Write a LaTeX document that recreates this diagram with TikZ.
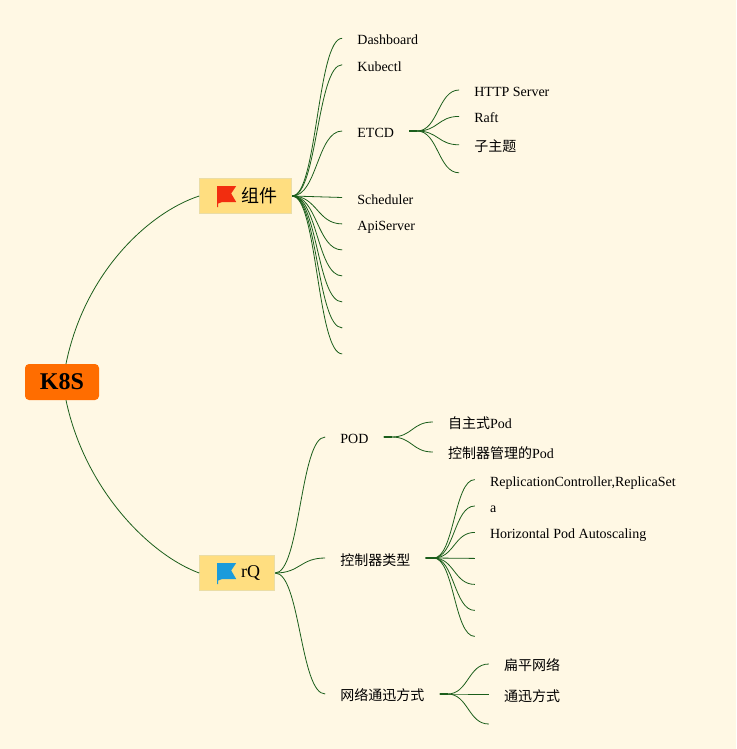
\documentclass[tikz,border=0pt]{standalone}
\usepackage{fontspec}
\setmainfont{Liberation Serif}
\newfontfamily\cjk{Noto Sans CJK SC}
\usepackage{xcolor}
\usepackage{tikz}
\usetikzlibrary{calc,positioning}

\definecolor{paper}{HTML}{FFF8E4}
\definecolor{topicfill}{HTML}{FFDE80}
\definecolor{topicline}{HTML}{EADDA6}
\definecolor{rootfill}{HTML}{FF6D00}
\definecolor{linkgreen}{HTML}{1B5E1B}
\definecolor{flagred}{HTML}{F22D0F}
\definecolor{flagblue}{HTML}{1A9BDC}

\begin{document}
\begin{tikzpicture}[
  x=1pt, y=-1pt,
  node distance=50pt,
  rootbox/.style={fill=rootfill, rounded corners=4pt, minimum width=74pt, minimum height=36pt, inner sep=0pt, font=\fontsize{24}{26}\selectfont\bfseries},
  topic/.style={draw=topicline, line width=0.8pt, fill=topicfill, minimum height=35pt, inner xsep=14.6pt, inner ysep=0pt, font=\fontsize{18}{20}\selectfont},
  leaf/.style={inner xsep=15pt, inner ysep=0pt, text height=13pt, text depth=0pt, font=\fontsize{14}{16}\selectfont},
  arc/.style={draw=linkgreen, line width=0.8pt},
  link/.style={arc, to path={let \p1=(\tikztostart), \p2=(\tikztotarget) in
    .. controls (\x1/2+\x2/2,\y1) and (\x1/2+\x2/2,\y2) .. (\p2)}},
  sublink/.style={arc, to path={let \p1=(\tikztostart), \p2=(\tikztotarget) in
    -- (\x1+8pt,\y1) .. controls (\x1/2+\x2/2+4pt,\y1) and (\x1/2+\x2/2+4pt,\y2) .. (\p2)}},
  stub/.style={draw=linkgreen, line width=1.5pt},
  flag/.pic={\fill[#1] (0,0) -- (19,0) -- (14,7.5) -- (19,16) -- (5,16) -- (1,17.5) -- (1,21) -- (0,21) -- cycle;}
]
\fill[paper] (0,0) rectangle (736,749);

\node[rootbox] (root) at (62,382) {\raisebox{-0.5pt}{K8S}};
\node[topic, right=100pt of root.east, yshift=186pt] (comp) {\hspace*{27pt}\raisebox{-1pt}{\cjk 组件}};
\node[topic, right=100pt of root.east, yshift=-191pt] (rq) {\hspace*{27pt}rQ};
\pic at ([shift={(18,-10)}]comp.west) {flag=flagred};
\pic at ([shift={(18,-10)}]rq.west) {flag=flagblue};

% first topic
\node[leaf, right=of comp.east, yshift=157.7pt] (dash) {Dashboard};
\node[leaf, below right=13pt and 0pt of dash.south west] (kube) {Kubectl};
\node[leaf, right=of comp.east, yshift=65pt] (etcd) {ETCD};
\node[leaf, right=of comp.east, yshift=-1.5pt] (sched) {Scheduler};
\node[leaf, below right=13pt and 0pt of sched.south west] (api) {ApiServer};
\coordinate[below=26pt of api.west] (blank1);
\coordinate[below=26pt of blank1] (blank2);
\coordinate[below=26pt of blank2] (blank3);
\coordinate[below=26pt of blank3] (blank4);
\coordinate[below=26pt of blank4] (blank5);

\node[leaf, right=of etcd.east, yshift=41pt] (http) {HTTP Server};
\node[leaf, below right=13pt and 0pt of http.south west] (raft) {Raft};
\node[leaf, below right=15pt and 0pt of raft.south west] (sub) {\cjk 子主题};
\coordinate[below=28pt of sub.west] (etcdend);

% second topic
\node[leaf, right=of rq.east, yshift=136pt] (pod) {POD};
\node[leaf, right=of rq.east, yshift=15pt] (ctrl) {\raisebox{-1pt}{\cjk 控制器类型}};
\node[leaf, right=of rq.east, yshift=-121pt] (net) {\cjk 网络通迅方式};

\node[leaf, right=49.2pt of pod.east, yshift=15pt] (self) {{\cjk 自主式}Pod};
\node[leaf, right=49.2pt of pod.east, yshift=-15pt] (managed) {{\cjk 控制器管理的}Pod};

\node[leaf, right=49.2pt of ctrl.east, yshift=78.4pt] (rc) {ReplicationController,ReplicaSet};
\node[leaf, below right=13pt and 0pt of rc.south west] (aitem) {a};
\node[leaf, below right=13pt and 0pt of aitem.south west] (hpa) {Horizontal Pod Autoscaling};
\coordinate[below=26pt of hpa.west] (ctrl1);
\coordinate[below=26pt of ctrl1] (ctrl2);
\coordinate[below=26pt of ctrl2] (ctrl3);
\coordinate[below=26pt of ctrl3] (ctrl4);

\node[leaf, right=49.2pt of net.east, yshift=30pt] (flat) {\cjk 扁平网络};
\node[leaf, right=49.2pt of net.east] (comm) {\raisebox{-1pt}{\cjk 通迅方式}};
\coordinate[right=49.2pt of net.east, yshift=-30pt] (netend);

\draw[arc] ([xshift=4pt]root.north) .. controls +(19,-93) and +(-49,16) .. (comp.west);
\draw[arc] ([xshift=4pt]root.south) .. controls +(19,90) and +(-49,-18) .. (rq.west);

\foreach \leafname in {dash,kube,etcd,sched,api}
  \draw[link] (comp.east) to (\leafname.west);
\foreach \i in {1,...,5}
  \draw[link] (comp.east) to (blank\i);
\foreach \leafname in {http,raft,sub}
  \draw[sublink] (etcd.east) to (\leafname.west);
\draw[sublink] (etcd.east) to (etcdend);

\foreach \leafname in {pod,ctrl,net}
  \draw[link] (rq.east) to (\leafname.west);
\foreach \leafname in {self,managed}
  \draw[sublink] (pod.east) to (\leafname.west);
\foreach \leafname in {rc,aitem,hpa}
  \draw[sublink] (ctrl.east) to (\leafname.west);
\foreach \i in {1,...,4}
  \draw[sublink] (ctrl.east) to (ctrl\i);
\foreach \leafname in {flat,comm}
  \draw[sublink] (net.east) to (\leafname.west);
\draw[sublink] (net.east) to (netend);

\foreach \parentname in {etcd,pod,ctrl,net}
  \draw[stub] (\parentname.east) -- ++(8,0);
\end{tikzpicture}
\end{document}
